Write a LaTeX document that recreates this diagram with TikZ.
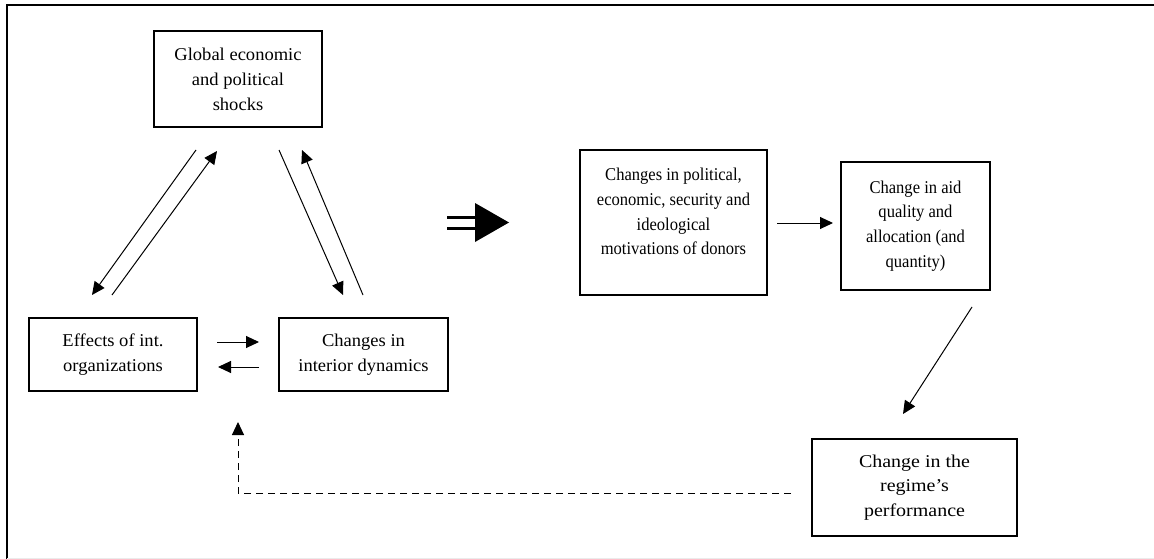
\documentclass[tikz,border=0pt]{standalone}
\usepackage{fontspec}
\setmainfont{Liberation Serif}
\newfontfamily\fwide[FakeStretch=1.03]{Liberation Serif}
\newfontfamily\fnarrow[FakeStretch=0.92]{Liberation Serif}
\newfontfamily\fwider[FakeStretch=1.11]{Liberation Serif}
\usetikzlibrary{arrows.meta}
\begin{document}
\begin{tikzpicture}[x=1pt,y=-1pt,
  box/.style={draw=black,line width=1.3pt,inner sep=0pt,align=center,
    font=\fwide\fontsize{18}{25}\selectfont},
  narrowtext/.style={font=\fnarrow\fontsize{18}{24.7}\selectfont},
  widetext/.style={font=\fwider\fontsize{18}{24.7}\selectfont},
  lbl/.style={inner sep=0pt,align=center},
  arr/.style={line width=1pt,-{Triangle[length=13pt,width=12pt]}},
  frame/.style={line width=2pt,black}]
\useasboundingbox (0,0) rectangle (1154,559);
% frame
\draw[frame] (1154,5) -- (7,5) -- (7,559);
\draw[line width=1pt,black!8] (7,558) -- (1154,558);
% boxes
\node[box,minimum width=168pt,minimum height=96pt] (global) at (238,79)
  {Global economic\\and political\\shocks};
\node[box,minimum width=168pt,minimum height=73pt] (effects) at (113,354.5)
  {Effects of int.\\organizations};
\node[box,minimum width=169pt,minimum height=73pt] (interior) at (363.5,354.5)
  {Changes in\\interior dynamics};
\node[box,minimum width=187pt,minimum height=145pt] (donors) at (673.5,222.5) {};
\node[lbl,narrowtext] (donorstext) at (673.5,211.5)
  {Changes in political,\\economic, security and\\ideological\\motivations of donors};
\node[box,narrowtext,minimum width=149pt,minimum height=128pt] (aid) at (915.5,226)
  {Change in aid\\quality and\\allocation (and\\quantity)};
\node[box,widetext,minimum width=205pt,minimum height=97pt] (regime) at (914.5,487.5)
  {Change in the\\regime’s\\performance};
% free ends of connectors
\coordinate (g1) at (196,150);
\coordinate (e1) at (92,295);
\coordinate (e2) at (112,295);
\coordinate (g2) at (217,151);
\coordinate (g3) at (279,150);
\coordinate (i1) at (343,295);
\coordinate (i2) at (363,295);
\coordinate (g4) at (302,150);
\coordinate (h1) at (217,342);
\coordinate (h2) at (259,342);
\coordinate (h3) at (259,367);
\coordinate (h4) at (218,367);
\coordinate (d1) at (777,223);
\coordinate (a1) at (833,223);
\coordinate (a2) at (972,307);
\coordinate (r1) at (903,414);
\coordinate (r2) at (791,493);
\coordinate (c1) at (238,493);
\coordinate (c2) at (238,422);
% connectors
\draw[arr] (g1) -- (e1);
\draw[arr] (e2) -- (g2);
\draw[arr] (g3) -- (i1);
\draw[arr] (i2) -- (g4);
\draw[arr] (h1) -- (h2);
\draw[arr] (h3) -- (h4);
\draw[arr] (d1) -- (a1);
\draw[arr] (a2) -- (r1);
\draw[arr,dashed,dash pattern=on 7pt off 5pt] (r2) -- (c1) -- (c2);
% big double arrow
\fill[black] (447,215.5) rectangle (476,219);
\fill[black] (447,226.5) rectangle (476,230);
\fill[black] (475,203) -- (509,222.5) -- (475,242) -- cycle;
\end{tikzpicture}
\end{document}
